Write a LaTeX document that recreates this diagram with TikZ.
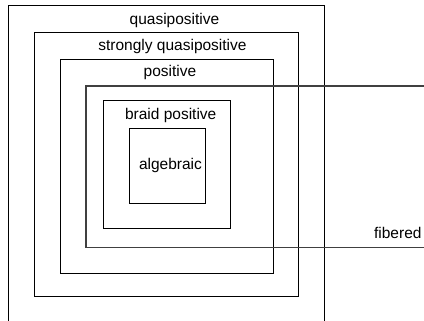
\documentclass[tikz,border=0pt]{standalone}
\usepackage{fontspec}
\setmainfont{Liberation Sans}
\begin{document}
\begin{tikzpicture}[x=1pt,y=-1pt,
  box/.style={draw=black, line width=1pt},
  fib/.style={draw=black!75, line width=1.2pt},
  lbl/.style={font=\fontsize{15.5}{18}\selectfont, anchor=base, inner sep=0pt}]
\useasboundingbox (0,0) rectangle (424,321);
\clip (0,0) rectangle (424,321);
% boxes
\draw[box] (8,6) rectangle (324,340);
\draw[box] (34,32.5) rectangle (298.3,296.7);
\draw[box] (60.5,60) rectangle (273.3,273.3);
\draw[fib] (430,86) -- (86,86) -- (86,247.3) -- (430,247.3);
\draw[box] (103,101) rectangle (230,228.7);
\draw[box] (129.5,128.7) rectangle (205,204);
% labels
\node[lbl] (qp) at (174.5,25) {quasipositive};
\node[lbl] (sqp) at (172.5,51) {strongly quasipositive};
\node[lbl] (pos) at (170,76.5) {positive};
\node[lbl] (bp) at (170.7,119.5) {braid positive};
\node[lbl] (alg) at (170.5,169.5) {algebraic};
\node[lbl, anchor=base east] (fib) at (421.7,238.3) {fibered};
\end{tikzpicture}
\end{document}
